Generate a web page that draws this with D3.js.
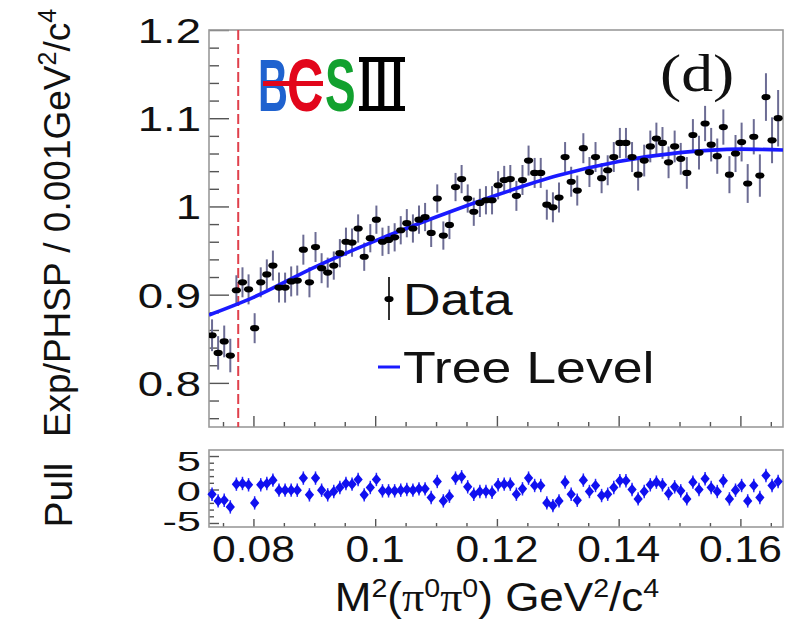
<!DOCTYPE html>
<html>
<head>
<meta charset="utf-8">
<script src="https://cdn.jsdelivr.net/npm/d3@7"></script>
<style>
  body { margin: 0; background: #fff; }
  svg { display: block; }
</style>
</head>
<body>
<div id="vis"></div>
<script>
// bin centres of M^2(pi0 pi0), GeV^2/c^4
const binCenters = [
  0.0732, 0.0742, 0.0752, 0.0762, 0.0772, 0.0782, 0.0792, 0.0802, 0.0812, 0.0822,
  0.0832, 0.0842, 0.0852, 0.0862, 0.0872, 0.0882, 0.0892, 0.0902, 0.0912, 0.0922,
  0.0932, 0.0942, 0.0952, 0.0962, 0.0972, 0.0982, 0.0992, 0.1002, 0.1012, 0.1022,
  0.1032, 0.1042, 0.1052, 0.1062, 0.1072, 0.1082, 0.1092, 0.1102, 0.1112, 0.1122,
  0.1132, 0.1142, 0.1152, 0.1162, 0.1172, 0.1182, 0.1192, 0.1202, 0.1212, 0.1222,
  0.1232, 0.1242, 0.1252, 0.1262, 0.1272, 0.1282, 0.1292, 0.1302, 0.1312, 0.1322,
  0.1332, 0.1342, 0.1352, 0.1362, 0.1372, 0.1382, 0.1392, 0.1402, 0.1412, 0.1422,
  0.1432, 0.1442, 0.1452, 0.1462, 0.1472, 0.1482, 0.1492, 0.1502, 0.1512, 0.1522,
  0.1532, 0.1542, 0.1552, 0.1562, 0.1572, 0.1582, 0.1592, 0.1602, 0.1612, 0.1622,
  0.1632, 0.1642, 0.1652, 0.1662
]

// Exp/PHSP ratio per bin
const ratio = [
  0.854, 0.834, 0.847, 0.831, 0.905, 0.914, 0.906, 0.862, 0.914, 0.923,
  0.933, 0.908, 0.908, 0.915, 0.916, 0.951, 0.914, 0.954, 0.930, 0.925,
  0.933, 0.947, 0.960, 0.959, 0.975, 0.943, 0.964, 0.985, 0.960, 0.962,
  0.965, 0.973, 0.981, 0.975, 0.985, 0.988, 0.970, 1.009, 0.967, 0.979,
  1.022, 1.031, 1.009, 0.994, 1.004, 1.007, 1.007, 1.024, 1.030, 1.031,
  1.012, 1.030, 1.052, 1.038, 1.038, 1.002, 0.999, 1.010, 1.056, 1.028,
  1.018, 1.066, 1.039, 1.056, 1.032, 1.041, 1.056, 1.072, 1.072, 1.056,
  1.036, 1.052, 1.068, 1.077, 1.072, 1.050, 1.068, 1.054, 1.038, 1.081,
  1.061, 1.094, 1.070, 1.057, 1.090, 1.036, 1.060, 1.073, 1.026, 1.079,
  1.035, 1.124, 1.075, 1.100
]

const ratioErr = [
  0.018, 0.019, 0.018, 0.019, 0.017, 0.017, 0.017, 0.017, 0.017, 0.017,
  0.017, 0.017, 0.017, 0.017, 0.017, 0.017, 0.017, 0.017, 0.017, 0.017,
  0.016, 0.016, 0.016, 0.016, 0.016, 0.016, 0.016, 0.016, 0.016, 0.016,
  0.016, 0.016, 0.016, 0.016, 0.016, 0.016, 0.016, 0.016, 0.016, 0.016,
  0.016, 0.016, 0.016, 0.016, 0.016, 0.016, 0.016, 0.016, 0.016, 0.016,
  0.017, 0.017, 0.017, 0.017, 0.017, 0.017, 0.017, 0.017, 0.017, 0.017,
  0.017, 0.017, 0.017, 0.017, 0.017, 0.017, 0.017, 0.017, 0.017, 0.017,
  0.018, 0.018, 0.018, 0.018, 0.018, 0.018, 0.018, 0.018, 0.018, 0.018,
  0.019, 0.020, 0.019, 0.020, 0.020, 0.021, 0.021, 0.022, 0.022, 0.020,
  0.024, 0.027, 0.026, 0.032
]

// pull = (data - fit) / error
const pull = [
  -0.7, -1.7, -1.6, -2.6, 0.8, 0.9, 0.7, -2.0, 0.7, 0.9,
  1.4, -0.1, -0.1, -0.1, -0.1, 1.7, -0.8, 1.7, -0.1, -0.8,
  -0.3, 0.3, 0.9, 0.8, 1.5, -0.8, 0.3, 1.5, -0.2, -0.2,
  -0.2, -0.1, 0.0, -0.1, 0.1, 0.1, -1.2, 1.2, -1.7, -1.0,
  1.7, 1.9, 0.4, -0.7, -0.3, -0.3, -0.4, 0.7, 0.8, 0.8,
  -0.7, 0.1, 1.7, 0.6, 0.6, -2.0, -2.4, -1.7, 1.1, -0.7,
  -1.6, 1.4, -0.3, 0.6, -0.9, -0.7, 0.3, 1.3, 1.3, 0.0,
  -1.4, -0.3, 0.7, 1.1, 0.7, -0.6, 0.4, -0.2, -1.4, 1.1,
  0.0, 1.6, 0.3, -0.3, 1.3, -1.4, -0.1, 0.6, -1.7, 0.6,
  -1.2, 2.1, 0.6, 1.2
]

// tree level curve
const treeX = [0.0727, 0.080, 0.090, 0.100, 0.110, 0.120, 0.130, 0.140, 0.150, 0.160, 0.167]
const treeY = [0.877, 0.897, 0.931, 0.961, 0.988, 1.013, 1.035, 1.051, 1.061, 1.065, 1.064]

const cutX = 0.0775

const xTicks = [0.08, 0.1, 0.12, 0.14, 0.16]
const yTicks = [0.8, 0.9, 1, 1.1, 1.2]
const pullTicks = [-5, 0, 5]

const W = 810, H = 619
const main = {left: 209, right: 783, top: 30, bottom: 427}
const low = {top: 450, bottom: 527}

const font = '"Liberation Sans", Arial, Helvetica, sans-serif'
const serif = '"Liberation Serif", "Times New Roman", serif'

let svg = d3.select('#vis').append('svg')
    .attr('width', W)
    .attr('height', H)

let x = d3.scaleLinear([0.0727, 0.167], [main.left, main.right])
let y = d3.scaleLinear([0.75, 1.2], [main.bottom, main.top])
let yp = d3.scaleLinear([-5.6, 5.9], [low.bottom, low.top])

svg.append('clipPath').attr('id', 'clipMain')
    .append('rect')
    .attr('x', main.left).attr('y', main.top)
    .attr('width', main.right - main.left).attr('height', main.bottom - main.top)

// ---- ticks (drawn with d3 axes, pointing into the frame)
function tickAxis(axis, tx, ty){
    let g = svg.append('g')
        .attr('transform', `translate(${tx},${ty})`)
        .call(axis.tickFormat(''))
    g.select('.domain').remove()
    g.selectAll('line').attr('stroke', '#555').attr('stroke-width', 1.4)
}

let yMinor = d3.range(0.76, 1.2, 0.02).filter(v => Math.abs(Math.round(v * 10) - v * 10) > 0.01)
tickAxis(d3.axisLeft(y).tickValues(yMinor).tickSizeInner(-10).tickSizeOuter(0), main.left, 0)
tickAxis(d3.axisLeft(y).tickValues(yTicks).tickSizeInner(-20).tickSizeOuter(0), main.left, 0)

let xMinor = d3.range(0.075, 0.167, 0.005).filter(v => Math.abs(Math.round(v * 50) - v * 50) > 0.01)
tickAxis(d3.axisBottom(x).tickValues(xMinor).tickSizeInner(-5).tickSizeOuter(0), 0, main.bottom)
tickAxis(d3.axisBottom(x).tickValues(xTicks).tickSizeInner(-11).tickSizeOuter(0), 0, main.bottom)
tickAxis(d3.axisBottom(x).tickValues(xMinor).tickSizeInner(-4).tickSizeOuter(0), 0, low.bottom)
tickAxis(d3.axisBottom(x).tickValues(xTicks).tickSizeInner(-8).tickSizeOuter(0), 0, low.bottom)

let pMinor = d3.range(-5, 6, 1).filter(v => v % 5 !== 0)
tickAxis(d3.axisLeft(yp).tickValues(pMinor).tickSizeInner(-5).tickSizeOuter(0), main.left, 0)
tickAxis(d3.axisLeft(yp).tickValues(pullTicks).tickSizeInner(-10).tickSizeOuter(0), main.left, 0)

// ---- frames
svg.append('rect')
    .attr('x', main.left).attr('y', main.top)
    .attr('width', main.right - main.left).attr('height', main.bottom - main.top)
    .attr('fill', 'none').attr('stroke', '#9a9a9a').attr('stroke-width', 1.6)
svg.append('rect')
    .attr('x', main.left).attr('y', low.top)
    .attr('width', main.right - main.left).attr('height', low.bottom - low.top)
    .attr('fill', 'none').attr('stroke', '#9a9a9a').attr('stroke-width', 1.6)

// ---- tick labels (stretched helvetica, like the ROOT output)
function label(txt, px, py, size, anchor, sx){
    return svg.append('text')
        .attr('transform', `translate(${px},${py}) scale(${sx},1)`)
        .attr('text-anchor', anchor)
        .attr('font-family', font)
        .attr('font-size', size)
        .attr('fill', '#111')
        .text(txt)
}

yTicks.forEach(v => label(String(v), 201, y(v) + 13, 35, 'end', 1.3))
xTicks.forEach(v => label(String(v), x(v), 562, 37, 'middle', 1.15))
// pull labels sit a bit closer together than their ticks, as in the original
let pullLabelY = {'5': 471, '0': 501, '-5': 531}
pullTicks.forEach(v => label(String(v), 201, pullLabelY[String(v)], 28, 'end', 1.55))

// ---- axis titles
let yt = svg.append('text')
    .attr('transform', 'translate(70,223) rotate(-90)')
    .attr('text-anchor', 'middle')
    .attr('font-family', font)
    .attr('font-size', 37)
    .attr('fill', '#111')
yt.append('tspan').text('Exp/PHSP / 0.001GeV')
yt.append('tspan').attr('baseline-shift', 'super').attr('font-size', 25).text('2')
yt.append('tspan').text('/c')
yt.append('tspan').attr('baseline-shift', 'super').attr('font-size', 25).text('4')

svg.append('text')
    .attr('transform', 'translate(72,495) rotate(-90)')
    .attr('text-anchor', 'middle')
    .attr('font-family', font)
    .attr('font-size', 39)
    .attr('fill', '#111')
    .text('Pull')

let xt = svg.append('text')
    .attr('transform', 'translate(497,611) scale(1.1,1)')
    .attr('text-anchor', 'middle')
    .attr('font-family', font)
    .attr('font-size', 40)
    .attr('fill', '#111')
xt.append('tspan').text('M')
xt.append('tspan').attr('baseline-shift', 'super').attr('font-size', 26).text('2')
xt.append('tspan').text('(')
xt.append('tspan').attr('font-family', serif).text('π')
xt.append('tspan').attr('baseline-shift', 'super').attr('font-size', 26).text('0')
xt.append('tspan').attr('font-family', serif).text('π')
xt.append('tspan').attr('baseline-shift', 'super').attr('font-size', 26).text('0')
xt.append('tspan').text(') GeV')
xt.append('tspan').attr('baseline-shift', 'super').attr('font-size', 26).text('2')
xt.append('tspan').text('/c')
xt.append('tspan').attr('baseline-shift', 'super').attr('font-size', 26).text('4')

// ---- cut line
svg.append('line')
    .attr('x1', x(cutX)).attr('x2', x(cutX))
    .attr('y1', main.top).attr('y2', main.bottom)
    .attr('stroke', '#e0404c').attr('stroke-width', 2)
    .attr('stroke-dasharray', '10,4')

// ---- data with error bars
let plot = svg.append('g').attr('clip-path', 'url(#clipMain)')
let pts = binCenters.map((c, i) => ({x: c, v: ratio[i], e: ratioErr[i], p: pull[i]}))

plot.selectAll('.err')
    .data(pts).enter().append('line')
    .attr('class', 'err')
    .attr('x1', d => x(d.x)).attr('x2', d => x(d.x))
    .attr('y1', d => y(d.v - d.e)).attr('y2', d => y(d.v + d.e))
    .attr('stroke', '#6c6c94').attr('stroke-width', 2)

// tree level fit
let line = d3.line()
    .x((d, i) => x(treeX[i]))
    .y(d => y(d))
    .curve(d3.curveMonotoneX)
plot.append('path')
    .attr('d', line(treeY))
    .attr('fill', 'none')
    .attr('stroke', '#1a1aff')
    .attr('stroke-width', 3.6)

plot.selectAll('.dot')
    .data(pts).enter().append('ellipse')
    .attr('class', 'dot')
    .attr('cx', d => x(d.x)).attr('cy', d => y(d.v))
    .attr('rx', 4.6).attr('ry', 3.1)
    .attr('fill', '#000')

// ---- pull panel
svg.selectAll('.perr')
    .data(pts).enter().append('line')
    .attr('class', 'perr')
    .attr('x1', d => x(d.x)).attr('x2', d => x(d.x))
    .attr('y1', d => yp(d.p - 1)).attr('y2', d => yp(d.p + 1))
    .attr('stroke', '#2a2aff').attr('stroke-width', 1.5)

svg.selectAll('.pdot')
    .data(pts).enter().append('path')
    .attr('class', 'pdot')
    .attr('transform', d => `translate(${x(d.x)},${yp(d.p)}) scale(1.3,0.9)`)
    .attr('d', d3.symbol(d3.symbolDiamond, 44))
    .attr('fill', '#1010f0')

// ---- legend
svg.append('line')
    .attr('x1', 389).attr('x2', 389).attr('y1', 277).attr('y2', 320)
    .attr('stroke', '#333').attr('stroke-width', 2)
svg.append('ellipse')
    .attr('cx', 389).attr('cy', 299).attr('rx', 4.6).attr('ry', 3.1).attr('fill', '#000')
label('Data', 403, 315, 44, 'start', 1.18)
svg.append('line')
    .attr('x1', 378).attr('x2', 400).attr('y1', 367).attr('y2', 367)
    .attr('stroke', '#1a1aff').attr('stroke-width', 3)
label('Tree Level', 403, 383, 44, 'start', 1.22)

// ---- panel tag
svg.append('text')
    .attr('transform', 'translate(660,91) scale(1.2,1)')
    .attr('font-family', serif)
    .attr('font-size', 53)
    .attr('fill', '#111')
    .text('(d)')

// ---- BESIII logo
function logo(ch, px, sx, colour, fam, size){
    svg.append('text')
        .attr('transform', `translate(${px},111) scale(${sx},1)`)
        .attr('font-family', fam)
        .attr('font-weight', 'bold')
        .attr('font-size', size)
        .attr('fill', colour)
        .text(ch)
}
logo('B', 258, 0.56, '#1f62cf', font, 74)
logo('C', 287, 0.68, '#e2061b', font, 74)
logo('S', 325, 0.62, '#12a12f', font, 74)
logo('III', 358, 0.5, '#000', serif, 80)
svg.append('rect').attr('x', 359).attr('y', 57).attr('width', 46).attr('height', 5).attr('fill', '#000')
svg.append('rect').attr('x', 359).attr('y', 106).attr('width', 46).attr('height', 5).attr('fill', '#000')
svg.append('rect')
    .attr('x', 263).attr('y', 81).attr('width', 60).attr('height', 5)
    .attr('fill', '#e2061b')
</script>
</body>
</html>
